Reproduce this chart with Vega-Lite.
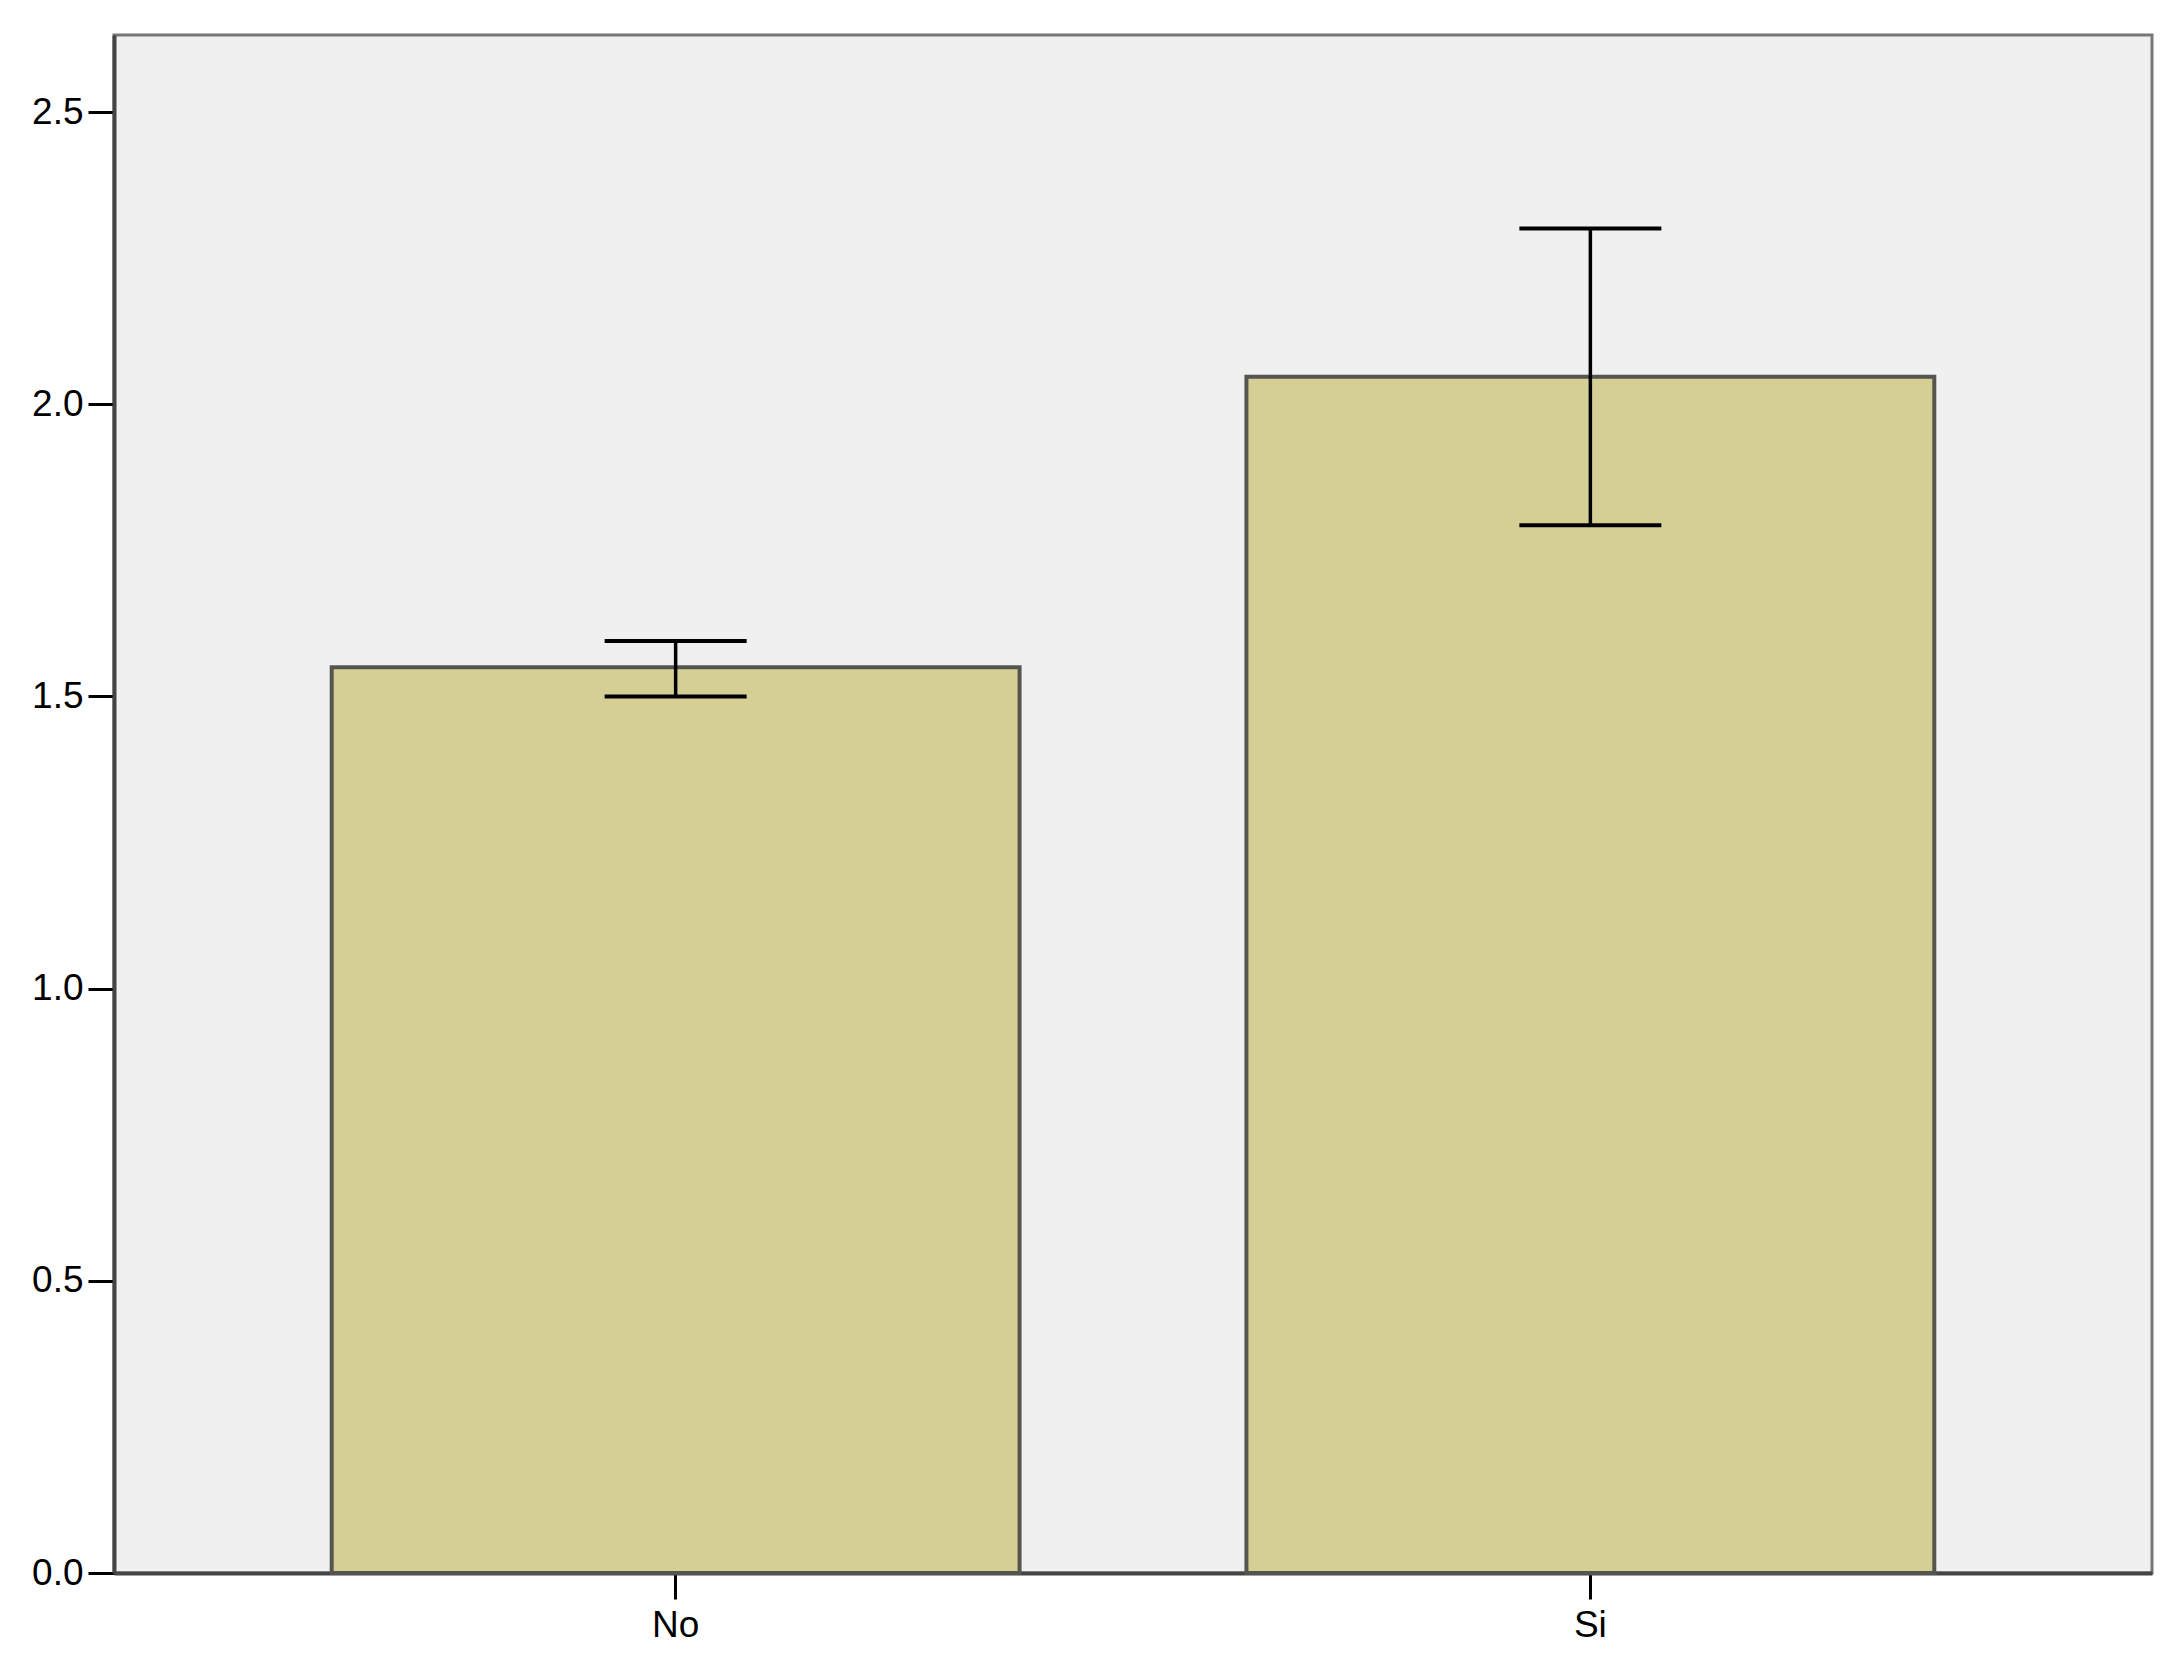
{
  "$schema": "https://vega.github.io/schema/vega-lite/v6.json",
  "autosize": {"type": "none"},
  "padding": {"left": 114, "top": 35, "right": 30, "bottom": 89},
  "width": 2038,
  "height": 1538,
  "background": "white",
  "config": {
    "view": {"fill": "#f0f0f0", "stroke": "#777777", "strokeWidth": 3},
    "axis": {
      "labelFont": "Liberation Sans",
      "labelFontSize": 37,
      "labelColor": "#000000",
      "domainColor": "#444444",
      "domainWidth": 4,
      "tickColor": "#000000",
      "tickWidth": 3,
      "tickSize": 26,
      "grid": false,
      "title": null
    }
  },
  "data": {
    "values": [
      {"grupo": "No", "media": 1.55, "inf": 1.50, "sup": 1.595},
      {"grupo": "Si", "media": 2.047, "inf": 1.793, "sup": 2.301}
    ]
  },
  "encoding": {
    "x": {
      "field": "grupo",
      "type": "nominal",
      "sort": ["No", "Si"],
      "scale": {"paddingInner": 0.248, "paddingOuter": 0.238},
      "axis": {"labelAngle": 0, "labelPadding": 8}
    }
  },
  "layer": [
    {
      "mark": {"type": "bar", "fill": "#d5cf96", "stroke": "#555550", "strokeWidth": 4},
      "encoding": {
        "y": {
          "field": "media",
          "type": "quantitative",
          "scale": {"domain": [0, 2.632], "nice": false, "zero": true},
          "axis": {"values": [0, 0.5, 1, 1.5, 2, 2.5], "format": ".1f", "labelPadding": 5}
        }
      }
    },
    {
      "mark": {"type": "rule", "color": "#000000", "strokeWidth": 3.5},
      "encoding": {
        "y": {"field": "inf", "type": "quantitative"},
        "y2": {"field": "sup"}
      }
    },
    {
      "mark": {"type": "tick", "color": "#000000", "size": 142, "thickness": 4, "opacity": 1},
      "encoding": {"y": {"field": "inf", "type": "quantitative"}}
    },
    {
      "mark": {"type": "tick", "color": "#000000", "size": 142, "thickness": 4, "opacity": 1},
      "encoding": {"y": {"field": "sup", "type": "quantitative"}}
    }
  ]
}
